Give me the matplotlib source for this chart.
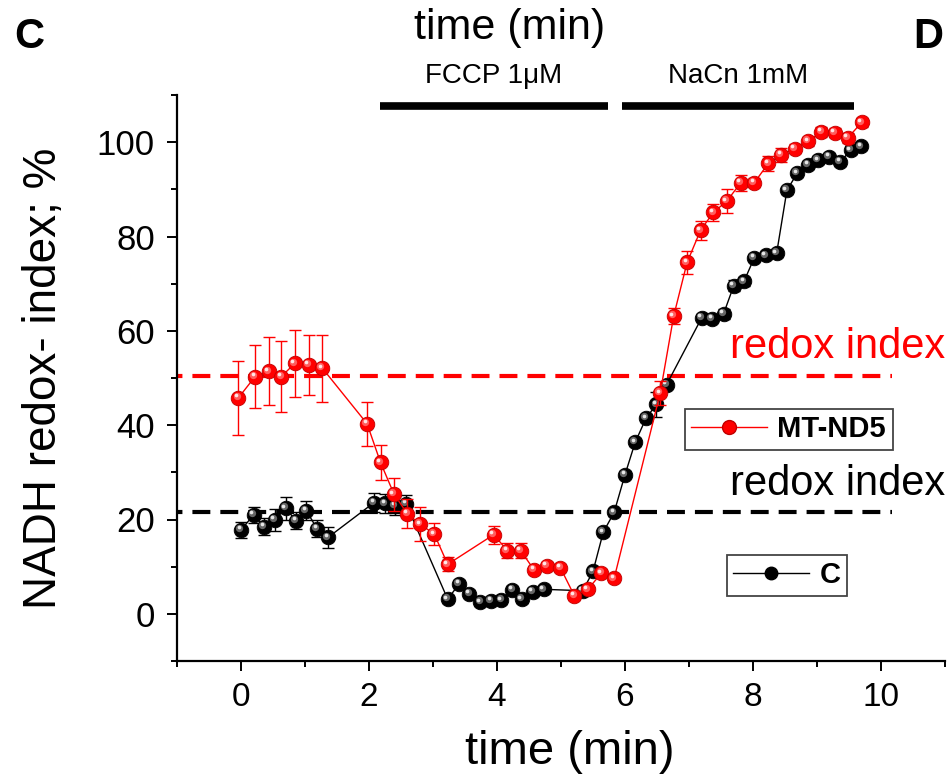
import matplotlib
matplotlib.use("Agg")
import matplotlib.pyplot as plt
from matplotlib.lines import Line2D
from matplotlib.transforms import offset_copy
from matplotlib.ticker import MultipleLocator

plt.rcParams['font.family'] = ['Liberation Sans', 'DejaVu Sans']

# ---------------- data ----------------
red_t = [-0.04, 0.22, 0.43, 0.63, 0.84, 1.06, 1.27,
         1.97, 2.18, 2.39, 2.60, 2.80, 3.02, 3.23,
         3.95, 4.16, 4.37, 4.58, 4.78, 4.99, 5.21, 5.42, 5.63, 5.83,
         6.55, 6.76, 6.97, 7.18, 7.38, 7.59, 7.81, 8.02, 8.24, 8.44, 8.65, 8.86, 9.07, 9.28, 9.48, 9.70]
red_v = [45.8, 50.3, 51.4, 50.3, 53.1, 52.8, 52.1,
         40.3, 32.1, 25.4, 21.2, 19.0, 16.9, 10.5,
         16.8, 13.4, 13.4, 9.3, 10.2, 9.8, 3.8, 5.2, 8.6, 7.5,
         46.8, 63.1, 74.5, 81.3, 85.1, 87.5, 91.4, 91.4, 95.5, 97.3, 98.6, 100.2, 102.2, 102.0, 100.9, 104.2]
red_e = [7.8, 6.6, 7.2, 7.6, 7.1, 6.4, 7.1,
         4.7, 3.8, 3.5, 3.1, 3.6, 2.4, 1.5,
         1.9, 1.6, 1.6, 0.8, 0.8, 0.8, 0.8, 0.8, 0.8, 0.8,
         2.6, 1.7, 2.4, 2.0, 1.8, 2.5, 1.7, 1.0, 1.6, 1.5, 1.0, 1.0, 1.0, 1.0, 1.0, 1.0]

black_t = [0.0, 0.20, 0.36, 0.53, 0.70, 0.86, 1.02, 1.19, 1.36,
           2.08, 2.25, 2.41, 2.58,
           3.23, 3.41, 3.57, 3.74, 3.91, 4.07, 4.24, 4.39, 4.56, 4.73,
           5.34, 5.50, 5.66, 5.83, 6.00, 6.16, 6.33, 6.49, 6.65,
           7.20, 7.36, 7.54, 7.70, 7.86, 8.02, 8.20, 8.37, 8.53, 8.69, 8.86, 9.02, 9.19, 9.36, 9.53, 9.69]
black_v = [17.8, 21.0, 18.5, 19.9, 22.4, 19.7, 21.9, 18.0, 16.2,
           23.6, 23.4, 22.9, 23.3,
           3.1, 6.4, 4.3, 2.5, 2.8, 2.9, 5.1, 3.1, 4.7, 5.2,
           4.9, 9.0, 17.3, 21.5, 29.5, 36.4, 41.5, 44.4, 48.6,
           62.8, 62.6, 63.6, 69.6, 70.5, 75.5, 76.0, 76.5, 89.8, 93.4, 95.2, 96.2, 96.9, 95.8, 98.3, 99.1]
black_e = [1.7, 1.7, 1.8, 2.3, 2.4, 1.8, 2.0, 1.8, 2.2,
           2.0, 2.0, 2.0, 2.0,
           0.8, 0.8, 0.8, 0.8, 0.8, 0.8, 0.8, 0.8, 0.8, 0.8,
           0.8, 0.8, 0.8, 0.8, 0.8, 0.8, 0.8, 2.6, 0.8,
           0.8, 0.8, 1.0, 1.2, 1.0, 0.8, 0.8, 0.8, 0.8, 0.8, 0.8, 0.8, 0.8, 0.8, 0.8, 0.8]

red_index = 50.5
black_index = 21.5
index_end = 10.17

treatments = ["FCCP 1\u03bcM", "NaCn 1mM"]
treat_start = [2.17, 5.96]
treat_end = [5.73, 9.58]
treat_y = 107.7

series_names = ["MT-ND5", "C"]

# ---------------- figure ----------------
W, H = 948, 779
fig = plt.figure(figsize=(W / 100, H / 100), dpi=100)
ax = fig.add_axes([177 / W, 1 - 661 / H, 768 / W, 566 / H])
ax.set_xlim(-1, 11)
ax.set_ylim(-10, 110)

for s in ['top', 'right']:
    ax.spines[s].set_visible(False)
for s in ['left', 'bottom']:
    ax.spines[s].set_linewidth(1.6)

ax.xaxis.set_major_locator(MultipleLocator(2))
ax.xaxis.set_minor_locator(MultipleLocator(1))
ax.yaxis.set_major_locator(MultipleLocator(20))
ax.yaxis.set_minor_locator(MultipleLocator(10))
ax.tick_params(which='major', direction='out', length=7, width=1.4, labelsize=24, pad=8)
ax.tick_params(which='minor', direction='out', length=4, width=1.4)
ax.tick_params(axis='y', which='major', labelsize=25, pad=9)

# dashed redox index lines
ax.hlines(red_index, -1, index_end, colors='#ff0000', linewidth=3,
          linestyles=(3.0, (4.3, 2.4)), zorder=2)
ax.hlines(black_index, -1, index_end, colors='black', linewidth=3,
          linestyles=(3.0, (4.3, 2.4)), zorder=2)

ms = 10.5

def sphere_series(t, v, e, color, edge, hl, zo):
    ax.errorbar(t, v, yerr=e, fmt='none', ecolor=color, elinewidth=1.0,
                capsize=4.5, capthick=1.0, zorder=zo)
    ax.plot(t, v, '-', color=color, linewidth=1.0, zorder=zo + 0.1)
    ax.plot(t, v, 'o', ms=ms, mfc=color, mec=edge, mew=0.6, linestyle='none', zorder=zo + 0.2)
    tr1 = offset_copy(ax.transData, fig=fig, x=-1.3, y=1.3, units='points')
    ax.plot(t, v, 'o', ms=ms * 0.5, mfc=hl, mec='none', alpha=0.55,
            linestyle='none', transform=tr1, zorder=zo + 0.3)
    tr2 = offset_copy(ax.transData, fig=fig, x=-1.8, y=1.8, units='points')
    ax.plot(t, v, 'o', ms=ms * 0.25, mfc='white', mec='none', alpha=0.85,
            linestyle='none', transform=tr2, zorder=zo + 0.4)

sphere_series(black_t, black_v, black_e, 'black', '#000000', '#bbbbbb', 3)
sphere_series(red_t, red_v, red_e, '#ff0000', '#c00000', '#ffaaaa', 4)

# treatment bars
for name, a, b in zip(treatments, treat_start, treat_end):
    ax.plot([a, b], [treat_y, treat_y], color='black', linewidth=5.5,
            solid_capstyle='butt', clip_on=False, zorder=5)
    ax.text((a + b) / 2, treat_y + 3.5, name, ha='center', va='bottom',
            fontsize=20, clip_on=False)

# labels
ax.set_xlabel("time (min)", fontsize=34)
ax.xaxis.set_label_coords(0.512, -0.122)
ax.xaxis.label.set_va('top')
ax.set_ylabel("NADH redox- index; %", fontsize=33)
ax.yaxis.set_label_coords(-0.145, 0.5)

fig.text(510 / W, 1 - 8 / H, "time (min)", ha='center', va='top', fontsize=31)
fig.text(14 / W, 1 - 17 / H, "C", ha='left', va='top', fontsize=30, fontweight='bold')
fig.text(943 / W, 1 - 17 / H, "D", ha='right', va='top', fontsize=30, fontweight='bold')

ax.text(945 / W, 1 - 358 / H, "redox index", transform=fig.transFigure, ha='right',
        va='baseline', fontsize=30, color='#ff0000')
ax.text(945 / W, 1 - 495 / H, "redox index", transform=fig.transFigure, ha='right',
        va='baseline', fontsize=30, color='black')

# legends
h_red = Line2D([], [], color='#ff0000', lw=1, marker='o', ms=10, mfc='#ff0000', mec='#c00000')
h_blk = Line2D([], [], color='black', lw=1, marker='o', ms=9, mfc='black', mec='black')
leg_kw = dict(loc='upper left', bbox_transform=fig.transFigure,
              prop={'weight': 'bold', 'size': 21}, handlelength=2.6, handletextpad=0.35,
              borderpad=0.22, borderaxespad=0, fancybox=False, framealpha=1,
              edgecolor='#444444')
leg1 = ax.legend([h_red], [series_names[0]], bbox_to_anchor=(685 / W, 1 - 409 / H), **leg_kw)
leg1.get_frame().set_linewidth(1.3)
ax.add_artist(leg1)
leg2 = ax.legend([h_blk], [series_names[1]], bbox_to_anchor=(727 / W, 1 - 555 / H), **leg_kw)
leg2.get_frame().set_linewidth(1.3)

fig.savefig("out.png", dpi=100)
